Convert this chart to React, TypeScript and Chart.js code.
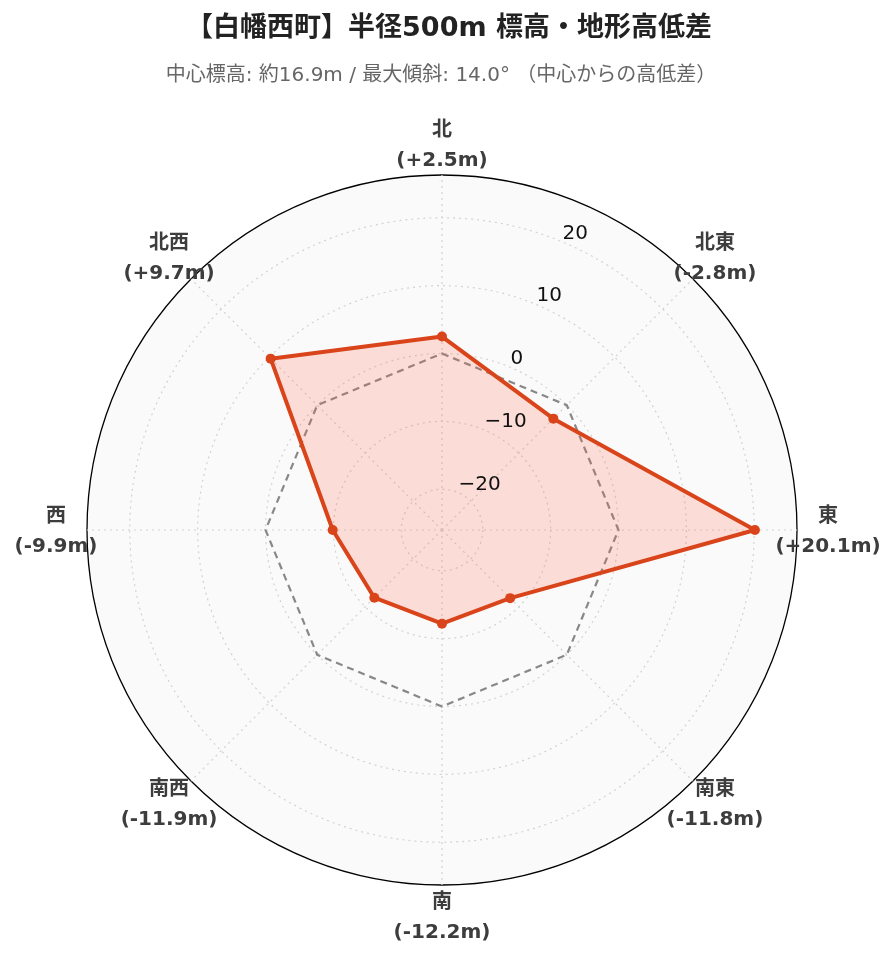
import React, { useEffect, useRef } from "react";
import { Chart, registerables } from "chart.js";

Chart.register(...registerables);

const TITLE = "【白幡西町】半径500m 標高・地形高低差";
const SUBTITLE = "中心標高: 約16.9m / 最大傾斜: 14.0° （中心からの高低差）";
const DIRECTIONS = ["北", "北東", "東", "南東", "南", "南西", "西", "北西"];
const DIFFS = [2.5, -2.8, 20.1, -11.8, -12.2, -11.9, -9.9, 9.7];
const ZERO_LINE = [0, 0, 0, 0, 0, 0, 0, 0];
const TICK_VALUES = [-20, -10, 0, 10, 20];
const TICK_LABELS = ["−20", "−10", "0", "10", "20"];
const R_MIN = -26.0;
const R_MAX = 26.3;

const FONT = "'DejaVu Sans', 'Noto Sans CJK JP', sans-serif";

function fmtDiff(v: number): string {
  return v > 0 ? `(+${v.toFixed(1)}m)` : `(${v.toFixed(1)}m)`;
}

const overlayPlugin = {
  id: "overlay",
  afterDraw(chart: any) {
    const ctx = chart.ctx as CanvasRenderingContext2D;
    const scale = chart.scales.r;
    ctx.save();
    // title
    ctx.textAlign = "center";
    ctx.textBaseline = "middle";
    ctx.fillStyle = "#222";
    ctx.font = `bold 27px ${FONT}`;
    ctx.fillText(TITLE, 449, 29);
    ctx.fillStyle = "#666";
    ctx.font = `20px ${FONT}`;
    ctx.fillText(SUBTITLE, 441, 76);

    // tick labels along the 22.5° radial axis
    ctx.textAlign = "left";
    ctx.fillStyle = "#111";
    ctx.font = `20px ${FONT}`;
    TICK_VALUES.forEach((v, i) => {
      const r = scale.getDistanceFromCenterForValue(v);
      const p = scale.getPointPosition(0.5, r);
      ctx.fillText(TICK_LABELS[i], p.x + 1, p.y - 8);
    });

    // point labels
    ctx.textAlign = "center";
    ctx.fillStyle = "#3d3d3d";
    ctx.font = `bold 20px ${FONT}`;
    const outer = scale.drawingArea + 31;
    DIRECTIONS.forEach((d, i) => {
      const p = scale.getPointPosition(i, outer);
      ctx.fillText(d, p.x, p.y - 13);
      ctx.fillText(fmtDiff(DIFFS[i]), p.x, p.y + 17);
    });
    ctx.restore();
  },
};

export default function App() {
  const ref = useRef<HTMLCanvasElement | null>(null);
  useEffect(() => {
    if (!ref.current) return;
    const chart = new Chart(ref.current, {
      type: "radar",
      data: {
        labels: DIRECTIONS,
        datasets: [
          {
            label: "高低差",
            data: DIFFS,
            borderColor: "#D9441A",
            backgroundColor: "rgba(255, 99, 71, 0.2)",
            borderWidth: 4,
            borderJoinStyle: "round",
            pointRadius: 5,
            pointBackgroundColor: "#D9441A",
            pointBorderColor: "#D9441A",
            pointBorderWidth: 0,
            fill: "start",
          },
          {
            label: "基準",
            data: ZERO_LINE,
            borderColor: "#888888",
            borderWidth: 2.2,
            borderDash: [7, 5],
            pointRadius: 0,
            fill: false,
          },
        ],
      },
      options: {
        animation: false,
        responsive: false,
        maintainAspectRatio: false,
        layout: { padding: { left: 87, right: 99, top: 175, bottom: 77 } },
        plugins: {
          legend: { display: false },
          tooltip: { enabled: false },
          title: { display: false },
        },
        scales: {
          r: {
            min: R_MIN,
            max: R_MAX,
            backgroundColor: "#fafafa",
            ticks: { display: false, stepSize: 10 },
            pointLabels: { display: false },
            grid: {
              circular: true,
              color: (c: any) =>
                c.tick && Math.abs(c.tick.value - R_MAX) < 1e-6 ? "#000000" : "#d2d2d2",
              lineWidth: (c: any) =>
                c.tick && Math.abs(c.tick.value - R_MAX) < 1e-6 ? 1.3 : 1.2,
            },
            border: {
              dash: (c: any) =>
                c.tick && Math.abs(c.tick.value - R_MAX) < 1e-6 ? [] : [2, 4],
            },
            angleLines: {
              color: "#d2d2d2",
              lineWidth: 1.2,
              borderDash: [2, 4],
            },
          },
        },
      },
      plugins: [overlayPlugin],
    } as any);
    return () => chart.destroy();
  }, []);
  return (
    <div style={{ position: "absolute", left: 0, top: 0, width: 896, height: 962 }}>
      <canvas ref={ref} width={896} height={962} style={{ width: 896, height: 962 }} />
    </div>
  );
}
